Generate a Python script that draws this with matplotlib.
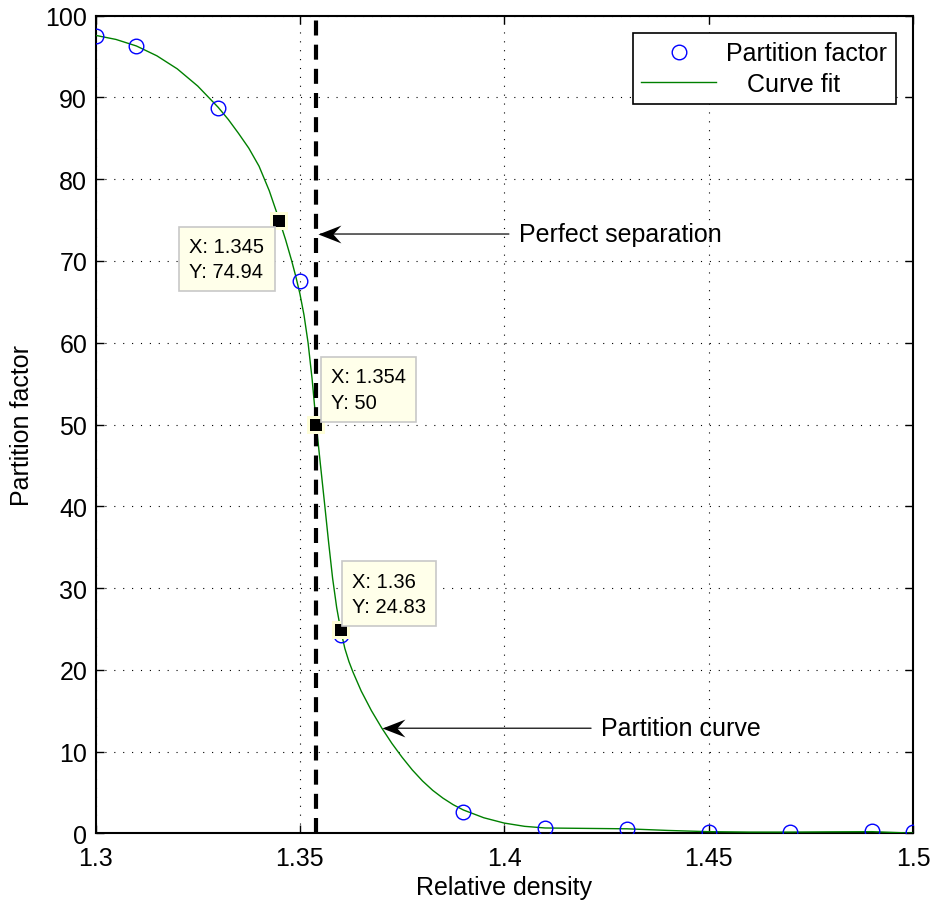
import matplotlib
matplotlib.use("Agg")
import matplotlib.pyplot as plt
from matplotlib.path import Path

plt.rcParams['font.family'] = ['Liberation Sans', 'DejaVu Sans']

# measured data (circles)
density = [1.30, 1.31, 1.33, 1.35, 1.36, 1.39, 1.41, 1.43, 1.45, 1.47, 1.49, 1.50]
partition = [97.5, 96.3, 88.7, 67.6, 24.2, 2.6, 0.65, 0.55, 0.2, 0.2, 0.3, 0.1]

# curve fit
fit_x = [1.300, 1.305, 1.310, 1.315, 1.320, 1.325, 1.330, 1.3325, 1.335, 1.3375,
         1.340, 1.3425, 1.345, 1.3465, 1.348, 1.349, 1.350, 1.351, 1.352, 1.353,
         1.354, 1.355, 1.356, 1.357, 1.358, 1.359, 1.360, 1.361, 1.362, 1.363,
         1.365, 1.3675, 1.370, 1.3725, 1.375, 1.3775, 1.380, 1.3825, 1.385, 1.3875,
         1.390, 1.395, 1.400, 1.405, 1.410, 1.420, 1.430, 1.440, 1.450, 1.460,
         1.470, 1.480, 1.490, 1.500]
fit_y = [97.6, 97.1, 96.3, 95.1, 93.5, 91.4, 88.8, 87.3, 85.6, 83.8,
         81.6, 78.6, 74.94, 72.6, 70.0, 68.1, 66.0, 63.4, 60.0, 55.5,
         50.0, 45.2, 40.5, 35.7, 31.2, 27.6, 24.83, 22.6, 21.0, 19.7,
         17.4, 15.0, 12.9, 11.0, 9.3, 7.75, 6.4, 5.25, 4.3, 3.5,
         2.85, 1.9, 1.25, 0.85, 0.65, 0.6, 0.55, 0.35, 0.2, 0.15,
         0.15, 0.18, 0.2, 0.02]

# data tips
tip_x = [1.345, 1.354, 1.36]
tip_y = [74.94, 50, 24.83]
tip_labels = ["X: 1.345\nY: 74.94", "X: 1.354\nY: 50", "X: 1.36\nY: 24.83"]

cut_point = 1.354

xticks = [1.3, 1.35, 1.4, 1.45, 1.5]
xticklabels = ["1.3", "1.35", "1.4", "1.45", "1.5"]
yticks = [0, 10, 20, 30, 40, 50, 60, 70, 80, 90, 100]

fig = plt.figure(figsize=(9.31, 9.04), dpi=100)
ax = fig.add_axes([0.1026, 0.0771, 0.8781, 0.9044])

ax.set_xlim(1.3, 1.5)
ax.set_ylim(0, 100)
ax.set_xticks(xticks)
ax.set_xticklabels(xticklabels)
ax.set_yticks(yticks)

ax.grid(True, color='black', linestyle=(0, (1, 7)), linewidth=0.8)
ax.set_axisbelow(True)

ax.plot(density, partition, 'o', linestyle='none', markersize=10.5,
        markerfacecolor='none', markeredgecolor='#0000ff', markeredgewidth=1.0,
        label='Partition factor', zorder=4)
ax.plot(fit_x, fit_y, color='#008000', linewidth=1.0, label='   Curve fit', zorder=3)

ax.axvline(cut_point, color='black', linewidth=3, linestyle=(0, (3.6, 2.2)), zorder=5)

# data tip markers with halo
ax.plot(tip_x, tip_y, 's', linestyle='none', markersize=12.5, color='#ffffd8',
        markeredgewidth=0, zorder=6)
ax.plot(tip_x, tip_y, 's', linestyle='none', markersize=8.5, color='black',
        markeredgewidth=0, zorder=7)

box = dict(boxstyle='square,pad=0.5', facecolor='#ffffea', edgecolor='#c8c8c8', linewidth=1.2)
offsets = [(-90, -16, 'top'), (15, 13, 'bottom'), (11, 14, 'bottom')]
for xv, yv, lab, (dx, dy, va) in zip(tip_x, tip_y, tip_labels, offsets):
    ax.annotate(lab, xy=(xv, yv), xytext=(dx, dy), textcoords='offset pixels',
                ha='left', va=va, fontsize=14.5, bbox=box, zorder=8,
                linespacing=1.45)

# barbed arrow head marker (tip at origin, pointing left)
head = Path([(0, 0), (1, 0.39), (0.65, 0), (1, -0.39), (0, 0)],
            [Path.MOVETO, Path.LINETO, Path.LINETO, Path.LINETO, Path.CLOSEPOLY])

arrow_tips = [(1.3544, 73.3), (1.3702, 12.85)]
arrow_texts = [('Perfect separation', 1.4035), ('Partition curve', 1.4236)]
for (tx, ty), (txt, lx) in zip(arrow_tips, arrow_texts):
    ax.annotate(txt, xy=(tx, ty), xytext=(lx, ty), ha='left', va='center',
                fontsize=18, zorder=9,
                arrowprops=dict(arrowstyle='-', color='#222222', linewidth=1.0,
                                shrinkA=5, shrinkB=2))
    ax.plot([tx], [ty], marker=head, markersize=33, color='black',
            markeredgewidth=0, linestyle='none', zorder=10)

ax.tick_params(axis='both', direction='in', length=5.8, width=1.0,
               top=True, right=True, labelsize=18)
ax.tick_params(axis='x', pad=9)
ax.tick_params(axis='y', pad=6)
for s in ax.spines.values():
    s.set_linewidth(1.5)

ax.set_xlabel('Relative density', fontsize=18, labelpad=4)
ax.set_ylabel('Partition factor', fontsize=18, labelpad=8)

leg = ax.legend(loc='upper right', fontsize=18, frameon=True, fancybox=False,
                edgecolor='black', framealpha=1, borderpad=0.35, labelspacing=0.25,
                handlelength=3.0, handletextpad=0.4, borderaxespad=0.68)
leg.get_frame().set_linewidth(1.2)

fig.savefig('out.png', dpi=100)
